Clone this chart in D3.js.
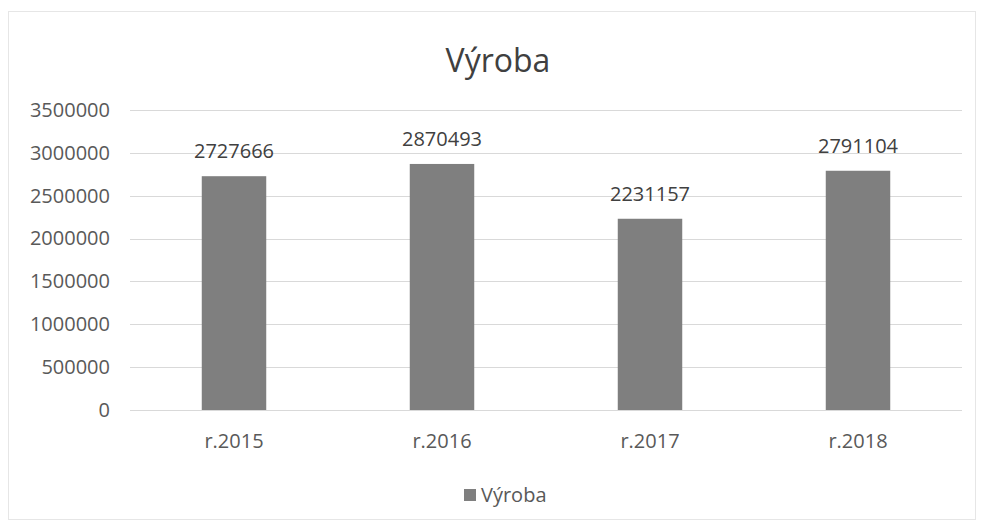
<!DOCTYPE html>
<html lang="cs">
  <head>
    <meta charset="utf-8">
    <title>Výroba</title>
    <script src="https://cdnjs.cloudflare.com/ajax/libs/d3/7.8.5/d3.min.js"></script>
    <style>
      body { margin: 0; background: #fff; }
      text { font-family: "Open Sans", sans-serif; }
    </style>
  </head>
  <body>
    <div id="chart"></div>
    <script>
    // data
    const categories = ["r.2015", "r.2016", "r.2017", "r.2018"];
    const values = [2727666, 2870493, 2231157, 2791104];
    const yTicks = [0, 500000, 1000000, 1500000, 2000000, 2500000, 3000000, 3500000];
    const seriesName = "Výroba";

    const w = 983, h = 528;
    const plotLeft = 130, plotRight = 962, plotTop = 110, plotBottom = 410;
    const fontSize = "20px";

    const svg = d3.select("#chart").append("svg")
      .attr("width", w)
      .attr("height", h);

    // chart area border
    svg.append("rect")
      .attr("x", 8.5).attr("y", 11.5)
      .attr("width", w - 16).attr("height", h - 20)
      .attr("fill", "none")
      .attr("stroke", "#e6e6e6");

    const x = d3.scaleBand()
      .domain(categories)
      .range([plotLeft, plotRight])
      .paddingInner(0.69)
      .paddingOuter(0.345);

    const y = d3.scaleLinear()
      .domain([0, 3500000])
      .range([plotBottom, plotTop]);

    // gridlines
    svg.append("g")
      .selectAll("line")
      .data(yTicks)
      .join("line")
      .attr("x1", plotLeft).attr("x2", plotRight)
      .attr("y1", d => Math.round(y(d)) + 0.5)
      .attr("y2", d => Math.round(y(d)) + 0.5)
      .attr("stroke", "#d9d9d9");

    // y axis labels
    const yAxis = d3.axisLeft(y).tickValues(yTicks).tickSize(0).tickPadding(0)
      .tickFormat(d3.format("d"));
    svg.append("g")
      .attr("transform", "translate(" + (plotLeft - 20) + ",0)")
      .call(yAxis)
      .call(g => g.select(".domain").remove())
      .selectAll("text")
        .attr("fill", "#595959")
        .style("font-size", fontSize)
        .style("font-family", "Open Sans, sans-serif");

    // x axis labels
    const xAxis = d3.axisBottom(x).tickSize(0).tickPadding(0);
    svg.append("g")
      .attr("transform", "translate(0," + (plotBottom + 24) + ")")
      .call(xAxis)
      .call(g => g.select(".domain").remove())
      .selectAll("text")
        .attr("fill", "#595959")
        .style("font-size", fontSize)
        .style("font-family", "Open Sans, sans-serif");

    // bars
    svg.append("g")
      .selectAll("rect")
      .data(values)
      .join("rect")
      .attr("x", (d, i) => x(categories[i]))
      .attr("y", d => y(d))
      .attr("width", x.bandwidth())
      .attr("height", d => y(0) - y(d))
      .attr("fill", "#7f7f7f");

    // value labels
    svg.append("g")
      .selectAll("text")
      .data(values)
      .join("text")
      .attr("x", (d, i) => x(categories[i]) + x.bandwidth() / 2)
      .attr("y", d => y(d) - 18)
      .attr("text-anchor", "middle")
      .attr("fill", "#404040")
      .style("font-size", fontSize)
      .text(d => d);

    // title
    svg.append("text")
      .attr("x", 498)
      .attr("y", 72)
      .attr("text-anchor", "middle")
      .attr("fill", "#404040")
      .style("font-size", "32px")
      .text(seriesName);

    // legend
    const legend = svg.append("g").attr("transform", "translate(464,489)");
    legend.append("rect")
      .attr("x", 0).attr("y", 0)
      .attr("width", 12).attr("height", 12)
      .attr("fill", "#7f7f7f");
    legend.append("text")
      .attr("x", 17).attr("y", 13)
      .attr("fill", "#595959")
      .style("font-size", fontSize)
      .text(seriesName);
    </script>
  </body>
</html>
